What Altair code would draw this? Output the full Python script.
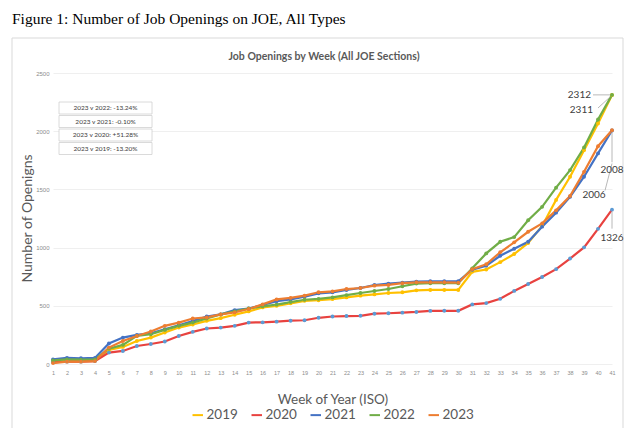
import altair as alt
import pandas as pd

weeks = list(range(1, 42))
years = ["2019", "2020", "2021", "2022", "2023"]
y2019 = [20, 25, 25, 30, 121, 147, 198, 227, 270, 313, 339, 371, 394, 423, 452, 486, 500, 521, 543, 548,
         558, 572, 587, 598, 610, 616, 633, 636, 636, 636, 792, 812, 875, 945, 1040, 1186, 1410, 1609, 1837, 2066, 2311]
y2020 = [15, 20, 20, 25, 98, 112, 155, 172, 193, 241, 276, 305, 313, 328, 356, 358, 364, 372, 376, 397,
         408, 412, 414, 432, 436, 441, 447, 456, 457, 457, 512, 523, 560, 628, 687, 747, 815, 906, 1002, 1161, 1326]
y2021 = [40, 52, 49, 52, 176, 227, 250, 264, 299, 333, 368, 408, 426, 463, 477, 507, 540, 555, 578, 607,
         616, 636, 653, 679, 691, 699, 708, 711, 711, 711, 810, 845, 930, 990, 1050, 1180, 1300, 1437, 1609, 1809, 2006]
y2022 = [31, 40, 37, 40, 132, 164, 241, 256, 293, 328, 356, 391, 426, 452, 477, 495, 510, 532, 552, 560,
         572, 592, 610, 627, 644, 668, 691, 694, 694, 694, 822, 950, 1050, 1090, 1235, 1350, 1515, 1666, 1860, 2100, 2312]
y2023 = [8, 20, 20, 25, 141, 198, 241, 279, 328, 356, 391, 400, 426, 443, 472, 512, 555, 568, 587, 616,
         624, 644, 653, 673, 679, 694, 702, 702, 702, 699, 815, 857, 960, 1045, 1136, 1208, 1320, 1443, 1651, 1871, 2008]
series = [y2019, y2020, y2021, y2022, y2023]

line_colors = ["#FFC000", "#E8423F", "#4472C4", "#70AD47", "#ED7D31"]
marker_colors = ["#FFC000", "#5B9BD5", "#4472C4", "#70AD47", "#ED7D31"]

comparisons = ["2023 v 2022: -13.24%", "2023 v 2021: -0.10%", "2023 v 2020: +51.28%", "2023 v 2019: -13.20%"]

rows = []
for yi, (yr, vals) in enumerate(zip(years, series)):
    for w, v in zip(weeks, vals):
        rows.append({"week": w, "openings": v, "year": yr, "order": yi, "mk": marker_colors[yi]})
df = pd.DataFrame(rows)

end_labels = pd.DataFrame({
    "week": [41, 41, 41, 41, 41],
    "openings": [y2022[-1], y2019[-1], y2023[-1], y2021[-1], y2020[-1]],
    "label": [str(y2022[-1]), str(y2019[-1]), str(y2023[-1]), str(y2021[-1]), str(y2020[-1])],
})

FONT = "Lato"
GRAY = "#595959"

x_axis = alt.Axis(values=weeks, format="d", labelFontSize=5.5, labelColor="#8c8c8c", labelPadding=6,
                  ticks=False, domain=False, grid=False, labelOverlap=False, labelFlush=False,
                  labelBound=False, labelSeparation=0,
                  title="Week of Year (ISO)", titleFontSize=13.5, titleFont=FONT,
                  titleFontWeight="normal", titleColor=GRAY, titleY=35, titleBaseline="middle")
y_axis = alt.Axis(values=[0, 500, 1000, 1500, 2000, 2500], format="d", labelFontSize=6, labelColor="#8c8c8c",
                  labelPadding=4, ticks=False, domain=False, gridColor="#efefef", gridWidth=1,
                  title="Number of Openigns", titleFontSize=14, titleFont=FONT,
                  titleFontWeight="normal", titleColor=GRAY, titleX=-26, titleY=145,
                  titleAngle=270, titleAlign="center", titleBaseline="middle")
x_enc = alt.X("week:Q", scale=alt.Scale(domain=[1, 41], nice=False, zero=False), axis=x_axis)
y_enc = alt.Y("openings:Q", scale=alt.Scale(domain=[0, 2500], nice=False), axis=y_axis)

base = alt.Chart(df)
lines = base.mark_line(strokeWidth=2.2).encode(
    x=x_enc, y=y_enc,
    color=alt.Color("year:N", scale=alt.Scale(domain=years, range=line_colors),
                    legend=alt.Legend(title=None, orient="none", direction="horizontal", columns=5,
                                      legendX=138, legendY=335, symbolType="stroke", symbolSize=110,
                                      symbolStrokeWidth=2, labelFontSize=13.5, labelFont=FONT,
                                      labelColor=GRAY, columnPadding=9, labelOffset=2)),
    order="order:Q",
)
points = base.mark_circle(size=15, opacity=1).encode(
    x=x_enc, y=y_enc,
    color=alt.Color("mk:N", scale=None, legend=None),
    detail="year:N",
)

lab_src = alt.Chart(end_labels)
lab_style = dict(fontSize=10, font=FONT, color="#404040")

def label(lbl, align, dx, dy):
    return lab_src.transform_filter("datum.label == '%s'" % lbl).mark_text(
        align=align, dx=dx, dy=dy, baseline="middle", **lab_style
    ).encode(x=x_enc, y=y_enc, text="label:N")

def leader(lbl, xo, yo, x2o, y2o):
    return lab_src.transform_filter("datum.label == '%s'" % lbl).mark_rule(
        color="#a6a6a6", strokeWidth=0.8, xOffset=xo, yOffset=yo, x2Offset=x2o, y2Offset=y2o
    ).encode(x=x_enc, y=y_enc, x2="week:Q", y2="openings:Q")

t2312 = label(str(y2022[-1]), "right", -21, 0)
t2311 = label(str(y2019[-1]), "right", -19, 15)
t2008 = label(str(y2023[-1]), "center", 0, 40)
t2006 = label(str(y2021[-1]), "center", -18, 64)
t1326 = label(str(y2020[-1]), "center", 0, 28)

l2312 = leader(str(y2022[-1]), -19, 0, -2, 0)
l2311 = leader(str(y2019[-1]), -14, 13, -2, 2)
l2008 = leader(str(y2023[-1]), 0, 2, 0, 32)
l2006 = leader(str(y2021[-1]), -7, 60, 0, 33)
l1326 = leader(str(y2020[-1]), 0, 2, 0, 19)

cmp_df = pd.DataFrame({"txt": comparisons, "i": list(range(len(comparisons)))})
cmp_base = alt.Chart(cmp_df).transform_calculate(
    top="29 + 13.5*datum.i", bot="29 + 13.5*datum.i + 12", mid="29 + 13.5*datum.i + 6"
)
cmp_boxes = cmp_base.mark_rect(fill="white", stroke="#d0d0d0", strokeWidth=0.8).encode(
    x=alt.value(6), x2=alt.value(99),
    y=alt.Y("top:Q", scale=None), y2=alt.Y2("bot:Q"),
)
cmp_text = cmp_base.mark_text(fontSize=6.5, font=FONT, color="#404040", align="center", baseline="middle").encode(
    x=alt.value(52.5), y=alt.Y("mid:Q", scale=None), text="txt:N"
)

frame = alt.Chart(pd.DataFrame({"a": [0]})).mark_rect(fill=None, stroke="#d9d9d9", strokeWidth=1).encode(
    x=alt.value(-41), x2=alt.value(570), y=alt.value(-35), y2=alt.value(380)
)
fig_title = alt.Chart(pd.DataFrame({"t": ["Figure 1: Number of Job Openings on JOE, All Types"]})).mark_text(
    font="Liberation Serif", fontSize=15.5, color="black", align="left", baseline="middle"
).encode(x=alt.value(-41), y=alt.value(-54), text="t:N")
inner_title = alt.Chart(pd.DataFrame({"t": ["Job Openings by Week (All JOE Sections)"]})).mark_text(
    font=FONT, fontSize=10.5, fontWeight="bold", color=GRAY, align="center", baseline="middle"
).encode(x=alt.value(271), y=alt.value(-16), text="t:N")

chart = alt.layer(
    frame, fig_title, inner_title, lines, points,
    l2312, l2311, l2008, l2006, l1326, t2312, t2311, t2008, t2006, t1326,
    cmp_boxes, cmp_text,
).properties(
    width=559, height=291,
    padding={"left": 45, "top": 65, "right": 20, "bottom": 64},
    autosize=alt.AutoSizeParams(type="none"),
    background="white",
).configure_view(stroke=None).configure_axis(labelOverlap=False)

chart.save("out.html", embed_options={"renderer": "svg", "actions": False})
